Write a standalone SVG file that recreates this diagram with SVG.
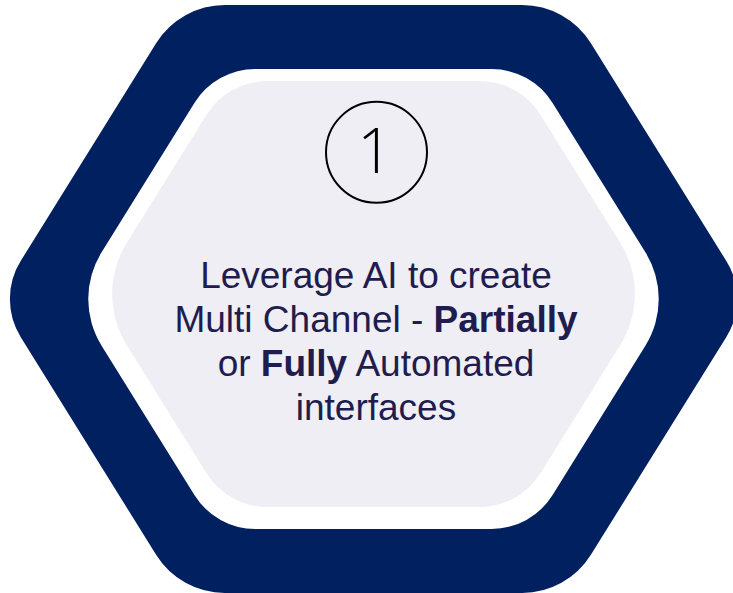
<svg xmlns="http://www.w3.org/2000/svg" width="733" height="593" viewBox="0 0 733 593">
<style>
.t{font-family:"Liberation Sans",Arial,sans-serif;font-size:37px;fill:#201C4E;text-anchor:middle}
.b{font-weight:bold}
</style>
<rect width="733" height="593" fill="#FFFFFF"/>
<g id="outer-hexagon">
<path fill="#002060" d="M224.9,5 L522.1,5 A81,81 0 0 1 590.9,43.2 L726.2,260.8 A72.4,72.4 0 0 1 726.2,337.2 L590.9,554.8 A81,81 0 0 1 522.1,593 L224.9,593 A81,81 0 0 1 156.1,554.8 L20.8,337.2 A72.4,72.4 0 0 1 20.8,260.8 L156.1,43.2 A81,81 0 0 1 224.9,5 Z"/>
</g>
<g id="white-ring">
<path fill="#FFFFFF" d="M255.5,69 L491.5,69 A72,72 0 0 1 552.6,103 L645.4,252.3 A88.4,88.4 0 0 1 645.4,345.7 L552.6,495 A72,72 0 0 1 491.5,529 L255.5,529 A72,72 0 0 1 194.4,495 L101.6,345.7 A88.4,88.4 0 0 1 101.6,252.3 L194.4,103 A72,72 0 0 1 255.5,69 Z"/>
</g>
<g id="inner-hexagon">
<path fill="#EEEEF4" d="M267.5,81 L479.5,81 A72,72 0 0 1 540.6,115 L620.3,243.1 A96.5,96.5 0 0 1 620.3,344.9 L540.6,473 A72,72 0 0 1 479.5,507 L267.5,507 A72,72 0 0 1 206.4,473 L126.7,344.9 A96.5,96.5 0 0 1 126.7,243.1 L206.4,115 A72,72 0 0 1 267.5,81 Z"/>
</g>
<g id="step-number">
<circle cx="376.5" cy="152.3" r="50.5" fill="none" stroke="#000000" stroke-width="2"/>
<text x="375" y="173" font-family="'Open Sans','DejaVu Sans',sans-serif" font-weight="300" font-size="62" fill="#000000" text-anchor="middle">1</text>
</g>
<g id="description">
<text class="t" x="376" y="288">Leverage AI to create</text>
<text class="t" x="376" y="332">Multi Channel - <tspan class="b">Partially</tspan></text>
<text class="t" x="376" y="376">or <tspan class="b">Fully</tspan> Automated</text>
<text class="t" x="376" y="420">interfaces</text>
</g>
<g id="connectors"></g>
</svg>
